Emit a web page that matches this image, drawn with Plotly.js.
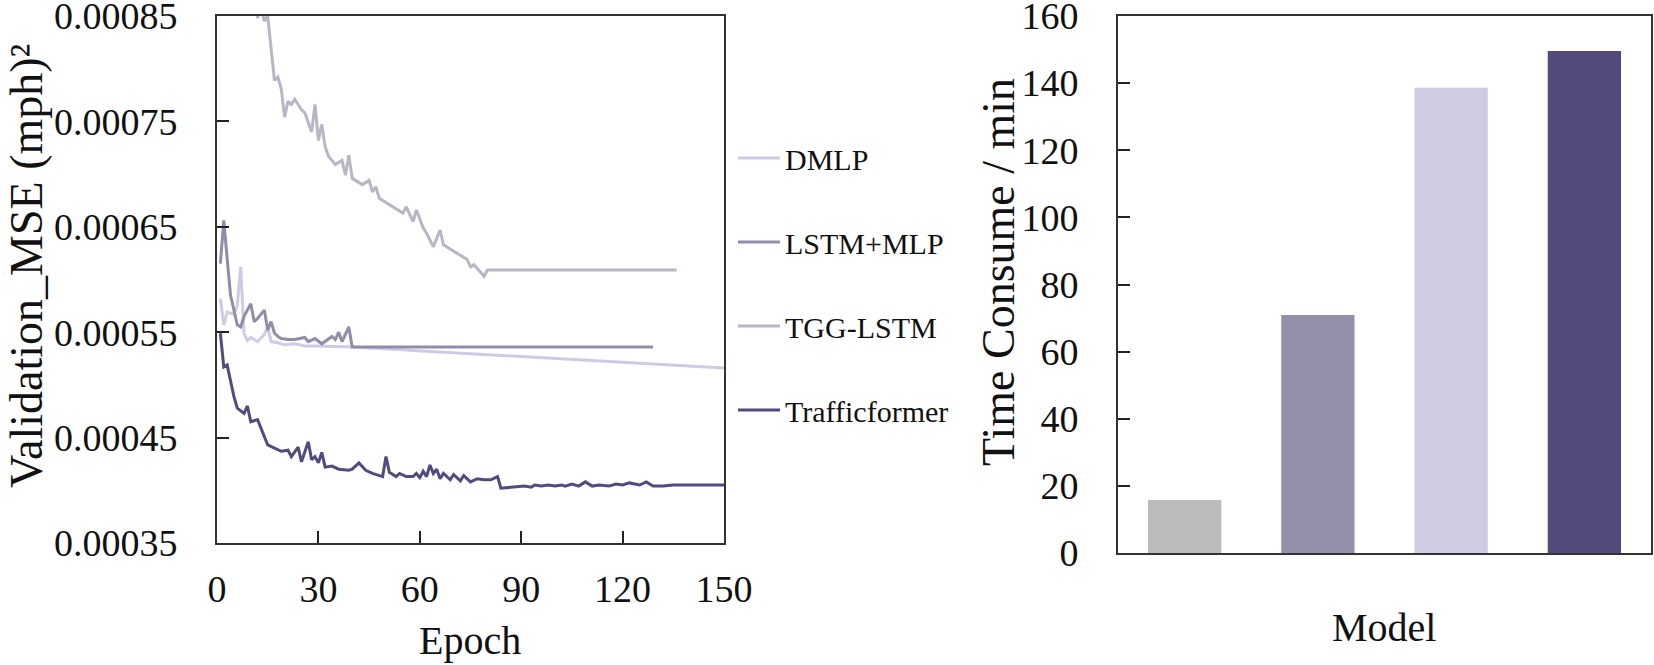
<!DOCTYPE html>
<html>
<head>
<meta charset="utf-8">
<script src="https://cdn.plot.ly/plotly-3.0.1.min.js"></script>
<style>
  html, body { margin: 0; padding: 0; background: #fff; }
  #chart { width: 1654px; height: 665px; }
</style>
</head>
<body>
<div id="chart"></div>
<script>
// Validation MSE per epoch
const dmlpEpoch = [1, 2, 3, 5, 6, 7, 8, 9, 10, 12, 14, 15, 16, 18, 20, 23, 26, 30, 40, 150];
const dmlpMse = [0.000582, 0.000557, 0.000569, 0.000567, 0.000575, 0.000612, 0.000549, 0.000542, 0.000545, 0.000541,
    0.000548, 0.000555, 0.000541, 0.000540, 0.000538, 0.000539, 0.000537, 0.000537, 0.000536, 0.000516];

const lstmEpoch = [1, 2, 3, 4, 6, 7, 8, 10, 11, 12, 14, 15, 16, 17, 18, 19, 21, 23, 26, 27, 29, 31, 34, 35, 36, 37, 39, 40, 129];
const lstmMse = [0.000615, 0.000656, 0.000620, 0.000585, 0.000557, 0.000555, 0.000565, 0.000577, 0.000560, 0.000563,
    0.000571, 0.000552, 0.000560, 0.000549, 0.000546, 0.000544, 0.000543, 0.000543, 0.000545, 0.000541,
    0.000544, 0.000539, 0.000546, 0.000543, 0.000550, 0.000541, 0.000555, 0.000536, 0.000536];

const tggEpoch = [11, 12, 13, 14, 15, 17, 18, 19, 20, 21, 22, 23, 25, 26, 28, 29, 30, 31, 32, 33, 35, 37, 38, 39, 40,
    43, 45, 46, 47, 48, 52, 55, 56, 58, 59, 61, 62, 64, 66, 67, 71, 74, 75, 76, 78, 79, 80, 136];
const tggMse = [0.000880, 0.000848, 0.000860, 0.000845, 0.000850, 0.000789, 0.000792, 0.000781, 0.000754, 0.000769,
    0.000766, 0.000771, 0.000761, 0.000758, 0.000740, 0.000766, 0.000732, 0.000747, 0.000726, 0.000717,
    0.000709, 0.000713, 0.000699, 0.000718, 0.000696, 0.000690, 0.000694, 0.000683, 0.000688, 0.000677,
    0.000669, 0.000663, 0.000669, 0.000655, 0.000666, 0.000649, 0.000644, 0.000631, 0.000647, 0.000633,
    0.000625, 0.000619, 0.000612, 0.000614, 0.000607, 0.000603, 0.000609, 0.000609];

const tfEpoch = [1, 2, 3, 4, 5, 6, 8, 9, 10, 12, 13, 15, 17, 19, 21, 22, 24, 25, 27, 28, 29, 30, 31, 32, 34, 36, 39, 40,
    42, 44, 46, 49, 50, 51, 53, 54, 56, 58, 59, 60, 61, 62, 63, 64, 65, 66, 67, 69, 70, 72, 73, 75, 77, 79, 81, 83,
    84, 87, 89, 91, 93, 94, 96, 98, 100, 102, 103, 105, 107, 109, 111, 113, 116, 118, 120, 122, 125, 127, 129,
    132, 135, 140, 150];
const tfMse = [0.000549, 0.000517, 0.000519, 0.000504, 0.000489, 0.000478, 0.000473, 0.000480, 0.000465, 0.000467,
    0.000459, 0.000443, 0.000440, 0.000437, 0.000438, 0.000432, 0.000441, 0.000427, 0.000446, 0.000429,
    0.000432, 0.000426, 0.000436, 0.000422, 0.000423, 0.000420, 0.000419, 0.000420, 0.000426, 0.000419,
    0.000416, 0.000413, 0.000432, 0.000417, 0.000413, 0.000416, 0.000413, 0.000413, 0.000416, 0.000412,
    0.000418, 0.000413, 0.000424, 0.000416, 0.000420, 0.000411, 0.000416, 0.000410, 0.000415, 0.000409,
    0.000414, 0.000408, 0.000411, 0.000410, 0.000410, 0.000413, 0.000402, 0.000403, 0.000403, 0.000404,
    0.000403, 0.000405, 0.000404, 0.000405, 0.000404, 0.000405, 0.000404, 0.000406, 0.000404, 0.000408,
    0.000404, 0.000405, 0.000404, 0.000406, 0.000405, 0.000407, 0.000405, 0.000408, 0.000404, 0.000404,
    0.000405, 0.000405, 0.000405];

const epochTicks = [0, 30, 60, 90, 120, 150];
const mseTicks = [0.00035, 0.00045, 0.00055, 0.00065, 0.00075, 0.00085];
const mseTickText = ['0.00035', '0.00045', '0.00055', '0.00065', '0.00075', '0.00085'];

// Training time per model
const models = ['TGG-LSTM', 'LSTM+MLP', 'DMLP', 'Trafficformer'];
const timeConsume = [15.8, 70.9, 138.6, 149.6];
const timeTicks = [0, 20, 40, 60, 80, 100, 120, 140, 160];

document.addEventListener('DOMContentLoaded', function() {
    const serif = '"Liberation Serif", "Times New Roman", serif';
    const W = 1654, H = 665;
    const px = x => x / W;
    const py = y => (H - y) / H;

    function curve(name, x, y, color, group) {
        return {
            x: x, y: y, name: name,
            type: 'scatter', mode: 'lines',
            legendgroup: group,
            line: { color: color, width: 3 },
            xaxis: 'x', yaxis: 'y'
        };
    }

    const traces = [
        curve('DMLP', dmlpEpoch, dmlpMse, '#cfcbe4', 'a'),
        curve('LSTM+MLP', lstmEpoch, lstmMse, '#928ca9', 'b'),
        curve('TGG-LSTM', tggEpoch, tggMse, '#b9b5c6', 'c'),
        curve('Trafficformer', tfEpoch, tfMse, '#554a7d', 'd'),
        {
            x: models, y: timeConsume,
            type: 'bar', showlegend: false,
            marker: { color: ['#bbbbbb', '#958fa9', '#cfcbe3', '#554a7c'] },
            xaxis: 'x2', yaxis: 'y2'
        }
    ];

    const frame = {
        showline: true, mirror: true, linecolor: '#333', linewidth: 2,
        showgrid: false, zeroline: false,
        ticks: 'inside', ticklen: 12, tickwidth: 1.5, tickcolor: '#222',
        tickfont: { family: serif, size: 38, color: '#111' },
        ticklabelstandoff: 30,
        ticklabeloverflow: 'allow'
    };

    const titleFont = size => ({ family: serif, size: size, color: '#111' });

    const layout = {
        width: W, height: H,
        margin: { t: 0, r: 0, b: 0, l: 0 },
        paper_bgcolor: '#fff',
        plot_bgcolor: '#fff',
        font: { family: serif, color: '#111' },
        showlegend: true,
        legend: {
            x: px(733), y: py(132), xanchor: 'left', yanchor: 'top',
            traceorder: 'grouped', tracegroupgap: 42,
            itemwidth: 42,
            font: { family: serif, size: 30, color: '#111' },
            bgcolor: 'rgba(0,0,0,0)'
        },
        xaxis: {
            ...frame,
            domain: [px(217), px(724)],
            range: [0, 150],
            tickvals: epochTicks,
            ticklabelstandoff: 11,
            anchor: 'y'
        },
        yaxis: {
            ...frame,
            domain: [py(543), py(16)],
            range: [0.00035, 0.00085],
            tickvals: mseTicks,
            ticktext: mseTickText,
            anchor: 'x'
        },
        xaxis2: {
            ...frame,
            domain: [px(1118), px(1651)],
            type: 'category',
            range: [-0.5, 3.5],
            ticks: '',
            showticklabels: false,
            anchor: 'y2'
        },
        yaxis2: {
            ...frame,
            domain: [py(553), py(16)],
            range: [0, 160],
            tickvals: timeTicks,
            anchor: 'x2'
        },
        bargap: 0.45,
        annotations: [
            { text: 'Epoch', x: px(470), y: py(640), xref: 'paper', yref: 'paper',
              xanchor: 'center', yanchor: 'middle', showarrow: false, font: titleFont(40) },
            { text: 'Validation_MSE (mph)²', x: px(26), y: py(266), xref: 'paper', yref: 'paper',
              xanchor: 'center', yanchor: 'middle', textangle: -90, showarrow: false, font: titleFont(46) },
            { text: 'Time Consume / min', x: px(999), y: py(272), xref: 'paper', yref: 'paper',
              xanchor: 'center', yanchor: 'middle', textangle: -90, showarrow: false, font: titleFont(46) },
            { text: 'Model', x: px(1384), y: py(627), xref: 'paper', yref: 'paper',
              xanchor: 'center', yanchor: 'middle', showarrow: false, font: titleFont(40) }
        ]
    };

    Plotly.newPlot('chart', traces, layout, { displayModeBar: false });
});
</script>
</body>
</html>
